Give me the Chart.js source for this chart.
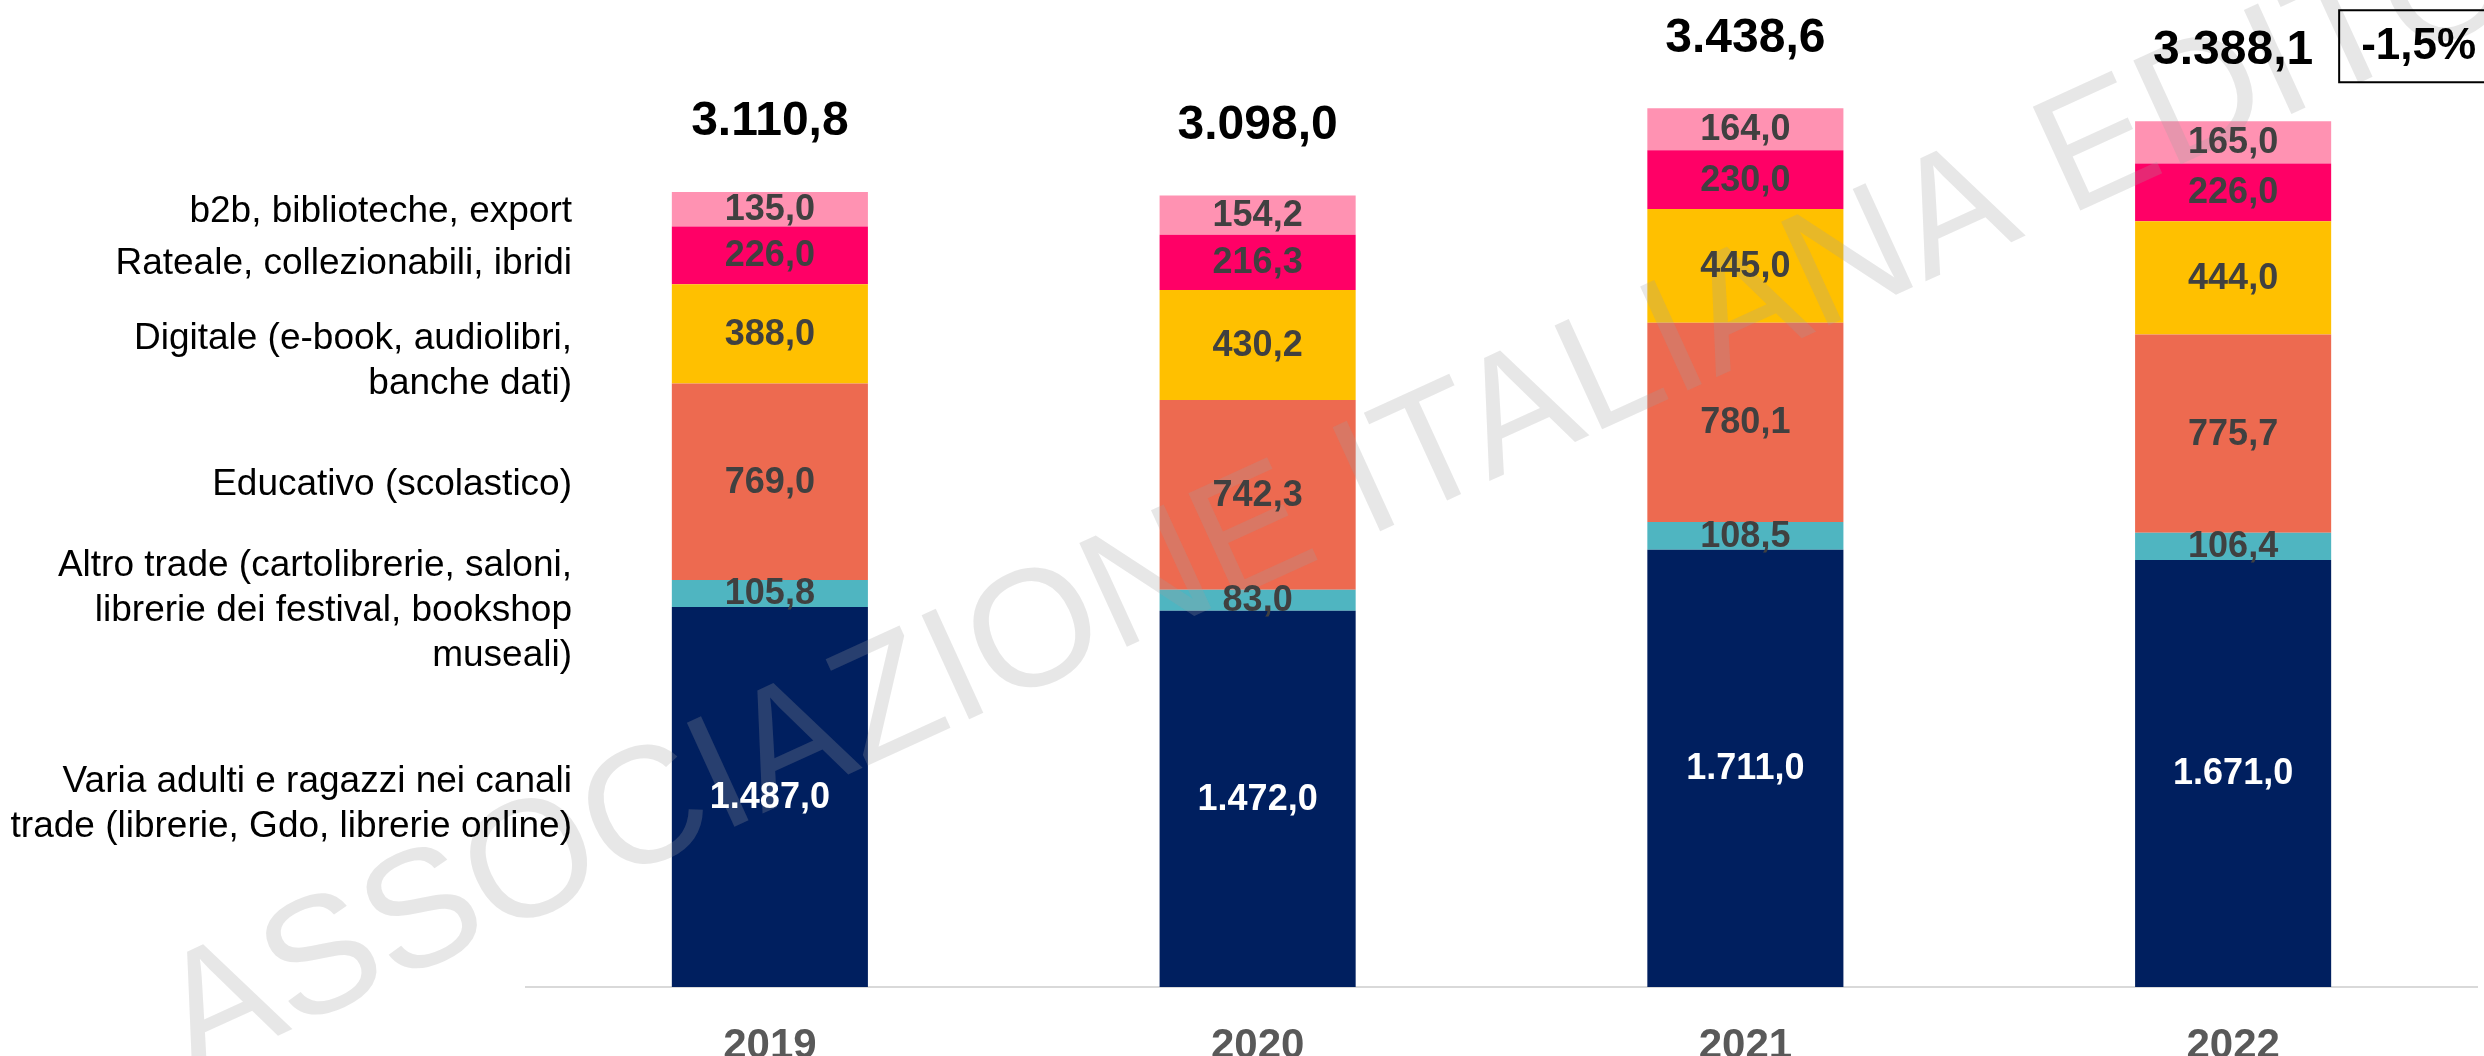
<!DOCTYPE html>
<html>
<head>
<meta charset="utf-8">
<script src="https://cdn.jsdelivr.net/npm/chart.js@4/dist/chart.umd.min.js"></script>
<style>
html,body{margin:0;padding:0;background:#fff;overflow:hidden}
#wrap{width:2484px;height:1056px;position:relative}
</style>
</head>
<body>
<div id="wrap"><canvas id="c" width="2484" height="1056"></canvas></div>
<script>
// ---- data ----
const years = ['2019', '2020', '2021', '2022'];
const varia     = [1487.0, 1472.0, 1711.0, 1671.0];
const altro     = [105.8, 83.0, 108.5, 106.4];
const educativo = [769.0, 742.3, 780.1, 775.7];
const digitale  = [388.0, 430.2, 445.0, 444.0];
const rateale   = [226.0, 216.3, 230.0, 226.0];
const b2b       = [135.0, 154.2, 164.0, 165.0];
const totals    = [3110.8, 3098.0, 3438.6, 3388.1];
const changeLabel = '-1,5%';
const watermarkText = 'ASSOCIAZIONE ITALIANA EDITORI';

const seriesLabels = [
  ['Varia adulti e ragazzi nei canali', 'trade (librerie, Gdo, librerie online)'],
  ['Altro trade (cartolibrerie, saloni,', 'librerie dei festival, bookshop', 'museali)'],
  ['Educativo (scolastico)'],
  ['Digitale (e-book, audiolibri,', 'banche dati)'],
  ['Rateale, collezionabili, ibridi'],
  ['b2b, biblioteche, export']
];
const seriesValues = [varia, altro, educativo, digitale, rateale, b2b];

// ---- styles ----
const colors = ['#001F5F', '#4FB5C1', '#ED6A50', '#FFC000', '#FF0066', '#FF92B2'];
const valueColors = ['#FFFFFF', '#404040', '#404040', '#404040', '#404040', '#404040'];
const legendOffsets = [7, 17, 3, 27, 8, 2];
const FONT = '"Liberation Sans", Arial, sans-serif';

function fmt(v) {
  const s = v.toFixed(1);
  let [ip, dp] = s.split('.');
  ip = ip.replace(/\B(?=(\d{3})+(?!\d))/g, '.');
  return ip + ',' + dp;
}

const labelsPlugin = {
  id: 'labelsPlugin',
  afterDatasetsDraw(chart) {
    const ctx = chart.ctx;
    // watermark
    ctx.save();
    ctx.translate(192, 1075);
    ctx.rotate(-24.6 * Math.PI / 180);
    ctx.font = '166px ' + FONT;
    ctx.fillStyle = 'rgba(160,160,160,0.25)';
    ctx.textAlign = 'left';
    ctx.textBaseline = 'alphabetic';
    ctx.fillText(watermarkText, 0, 0);
    ctx.restore();

    ctx.save();
    ctx.textAlign = 'center';
    ctx.textBaseline = 'middle';
    ctx.font = 'bold 36px ' + FONT;
    chart.data.datasets.forEach((ds, di) => {
      const meta = chart.getDatasetMeta(di);
      ctx.fillStyle = valueColors[di];
      meta.data.forEach((bar, i) => {
        const p = bar.getProps(['x', 'y', 'base'], true);
        ctx.fillText(fmt(ds.data[i]), p.x, (p.y + p.base) / 2 + 1);
      });
    });

    // totals
    const topMeta = chart.getDatasetMeta(chart.data.datasets.length - 1);
    ctx.font = 'bold 48px ' + FONT;
    ctx.fillStyle = '#000000';
    let lastTotalY = 0, lastBar = null;
    topMeta.data.forEach((bar, i) => {
      const p = bar.getProps(['x', 'y', 'width'], true);
      const ty = p.y - 70;
      ctx.fillText(fmt(totals[i]), p.x, ty);
      lastTotalY = ty; lastBar = p;
    });

    // change box
    const bx = lastBar.x + lastBar.width / 2 + 8;
    const bh = 72;
    const by = lastTotalY - 5 - bh / 2;
    ctx.strokeStyle = '#000000';
    ctx.lineWidth = 2;
    ctx.strokeRect(bx, by, 220, bh);
    ctx.font = 'bold 44px ' + FONT;
    ctx.textAlign = 'left';
    ctx.fillText(changeLabel, bx + 22, by + bh / 2 + 1);

    // series labels (left)
    const firstMeta = chart.data.datasets.map((d, di) => chart.getDatasetMeta(di).data[0]);
    ctx.font = '37px ' + FONT;
    ctx.fillStyle = '#000000';
    ctx.textAlign = 'right';
    const lh = 45;
    seriesLabels.forEach((lines, si) => {
      const p = firstMeta[si].getProps(['y', 'base'], true);
      const c = (p.y + p.base) / 2 + legendOffsets[si];
      const start = c - (lines.length - 1) * lh / 2;
      lines.forEach((ln, li) => ctx.fillText(ln, 572, start + li * lh));
    });
    ctx.restore();
  }
};

new Chart(document.getElementById('c'), {
  type: 'bar',
  data: {
    labels: years,
    datasets: seriesValues.map((vals, i) => ({
      label: seriesLabels[i].join(' '),
      data: vals,
      backgroundColor: colors[i],
      borderWidth: 0,
      barPercentage: 0.402,
      categoryPercentage: 1.0
    }))
  },
  options: {
    responsive: false,
    animation: false,
    devicePixelRatio: 1,
    layout: { padding: { left: 526, right: 7, top: 16, bottom: 0 } },
    plugins: { legend: { display: false }, tooltip: { enabled: false } },
    scales: {
      x: {
        stacked: true,
        grid: { display: false },
        border: { display: true, color: '#D9D9D9', width: 2 },
        ticks: { color: '#595959', padding: 26, font: { family: FONT, size: 42, weight: 'bold' } },
        afterFit(scale) { scale.height = 69; }
      },
      y: { stacked: true, display: false, min: 0, max: 3800 }
    }
  },
  plugins: [labelsPlugin]
});
</script>
</body>
</html>
